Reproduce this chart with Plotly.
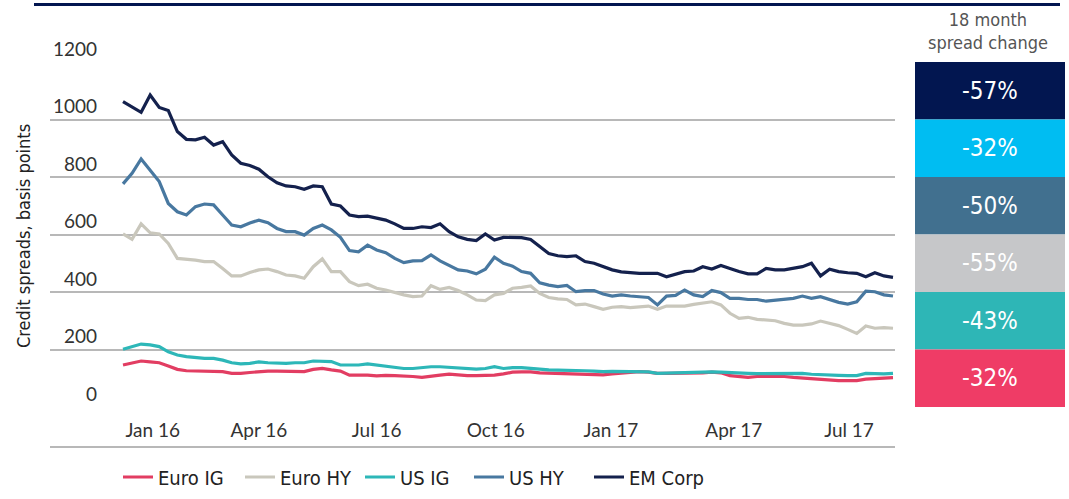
import pandas as pd
import plotly.graph_objects as go

# ---------------- data ----------------
start_date = "2015-12-18"
n_weeks = 86
dates = pd.date_range(start_date, periods=n_weeks, freq="7D")

em_corp = [1062,1045,1025,1085,1042,1031,958,931,929,938, 911,923,877,848,840,827,801,780,769,766,
           757,769,766,706,699,668,662,664,658,650, 637,621,621,627,624,637,610,592,583,579,
           602,581,590,590,589,583,558,534,526,523, 526,506,500,488,477,470,467,465,465,465,
           453,463,471,473,488,480,492,482,471,463, 463,482,477,477,482,488,500,456,479,471,
           467,465,453,467,456,451]
us_hy = [776,813,863,824,784,708,679,668,697,706, 703,668,633,627,640,650,641,621,610,610,
         598,621,633,616,590,544,540,563,546,537, 517,502,508,509,529,508,494,477,473,463,
         479,521,500,490,471,465,432,424,419,423, 401,405,405,393,386,390,386,384,381,355,
         386,388,407,390,384,405,398,378,378,374, 374,368,372,374,378,386,378,384,374,364,
         358,366,403,401,390,386]
euro_hy = [602,583,637,606,602,569,517,515,511,506, 506,482,456,456,468,477,480,471,459,456,
           448,488,515,471,471,436,422,427,413,407, 398,390,384,386,422,409,416,405,390,372,
           370,390,395,413,416,421,395,381,376,374, 355,358,349,340,347,349,346,348,351,340,
           351,351,351,357,361,366,355,326,308,312, 305,302,300,291,285,285,289,299,291,283,
           270,256,282,274,276,274]
us_ig = [201,210,219,216,210,192,181,175,172,169, 169,163,154,150,152,157,154,152,152,154,
         154,160,160,158,146,146,146,150,146,143, 138,134,134,137,140,140,138,134,132,132,
         134,140,134,137,137,134,131,129,128,128, 126,126,125,123,124,124,123,123,122,117,
         118,119,119,121,122,122,121,119,117,117, 116,116,117,117,117,117,114,112,111,110,
         109,109,117,115,115,117]
euro_ig = [146,152,160,157,154,143,131,126,125,125, 125,123,117,117,120,123,125,125,124,124,
           123,131,134,129,125,111,111,111,108,110, 109,108,106,103,108,111,114,111,109,109,
           109,111,115,121,122,122,119,118,117,117, 117,116,115,112,115,117,119,123,121,117,
           117,117,118,119,119,121,119,109,106,103, 106,106,106,106,103,101,97,95,93,92,
           92,92,97,99,101,102]

series_names = ["Euro IG", "Euro HY", "US IG", "US HY", "EM Corp"]
series_values = [euro_ig, euro_hy, us_ig, us_hy, em_corp]
series_colors = ["#e23d62", "#c9c7bc", "#2db7b8", "#4878a0", "#14214d"]
legend_widths = [77, 75, 64, 75, 80]

x_tick_vals = ["2016-01-10", "2016-04-01", "2016-07-01", "2016-10-01", "2016-12-29", "2017-04-03", "2017-07-01"]
x_tick_text = ["Jan 16", "Apr 16", "Jul 16", "Oct 16", "Jan 17", "Apr 17", "Jul 17"]
y_ticks = [0, 200, 400, 600, 800, 1000, 1200]

panel_title = "18 month<br>spread change"
panel_labels = ["-57%", "-32%", "-50%", "-55%", "-43%", "-32%"]
panel_colors = ["#021650", "#00bdf2", "#41708f", "#c6c7c9", "#2eb6b6", "#ef3c66"]

# ---------------- layout constants ----------------
W, H = 1069, 499
ML, MR, MT, MB = 50, 174, 62, 92
PW, PH = W - ML - MR, H - MT - MB
NARROW = "Liberation Sans Narrow, Arial Narrow, DejaVu Sans Condensed, sans-serif"
GEO = "Lato, Open Sans, sans-serif"

def px_x(p):  # pixel -> paper x
    return (p - ML) / PW

def px_y(p):  # pixel -> paper y
    return (H - MB - p) / PH

fig = go.Figure()
for name, vals, col, lw in zip(series_names, series_values, series_colors, legend_widths):
    fig.add_trace(go.Scatter(x=dates, y=vals, name=name, mode="lines",
                             line=dict(color=col, width=3.2), legendwidth=lw))

# x range so that data spans the right pixels
ppd = (893 - 123) / ((n_weeks - 1) * 7)
x0 = dates[0] - pd.Timedelta(days=(123 - ML) / ppd)
x1 = dates[-1] + pd.Timedelta(days=(ML + PW - 893) / ppd)

fig.update_layout(
    width=W, height=H,
    margin=dict(l=ML, r=MR, t=MT, b=MB, autoexpand=False),
    plot_bgcolor="white", paper_bgcolor="white",
    showlegend=True,
    legend=dict(orientation="h", xref="container", yref="container",
                x=118 / W, y=(H - 477) / H, xanchor="left", yanchor="middle",
                font=dict(family=NARROW, size=20, color="#222"), bgcolor="rgba(0,0,0,0)"),
    xaxis=dict(type="date", range=[x0, x1], tickvals=x_tick_vals, ticktext=x_tick_text,
               showgrid=False, zeroline=False, showline=False, ticks="",
               ticklabelstandoff=10, automargin=False,
               tickfont=dict(family=GEO, size=19, color="#333")),
    yaxis=dict(range=[0, 1200], tickvals=y_ticks, showticklabels=False,
               showgrid=True, gridcolor="#b8b8b8", gridwidth=1.5, automargin=False,
               zeroline=False, showline=False, ticks=""),
)

# y tick labels above gridlines
for v in y_ticks:
    fig.add_annotation(x=px_x(99), xref="paper", y=v, yref="y", text=str(v), showarrow=False,
                       xanchor="right", yanchor="middle", yshift=14,
                       font=dict(family=GEO, size=19, color="#333"))

# y axis title
fig.add_annotation(x=px_x(23), xref="paper", y=px_y(236), yref="paper",
                   text="Credit spreads, basis points", textangle=-90, showarrow=False,
                   xanchor="center", yanchor="middle",
                   font=dict(family=NARROW, size=18, color="#222"))

# top rule and bottom rule
fig.add_shape(type="line", xref="paper", yref="paper", x0=px_x(34), x1=px_x(1060),
              y0=px_y(4.5), y1=px_y(4.5), line=dict(color="#021650", width=3))
fig.add_shape(type="line", xref="paper", yref="paper", x0=0, x1=1,
              y0=px_y(447), y1=px_y(447), line=dict(color="#a0a0a0", width=1.5))

# right panel
fig.add_annotation(x=px_x(988), xref="paper", y=px_y(31), yref="paper", text=panel_title,
                   showarrow=False, xanchor="center", yanchor="middle",
                   font=dict(family=NARROW, size=18, color="#555"))
for k, (lab, col) in enumerate(zip(panel_labels, panel_colors)):
    top = 1200 - 200 * k
    bot = top - 200
    fig.add_shape(type="rect", xref="paper", yref="y", x0=px_x(915), x1=px_x(1065),
                  y0=bot, y1=top, fillcolor=col, line=dict(width=0), layer="above")
    fig.add_annotation(x=px_x(990), xref="paper", y=(top + bot) / 2, yref="y", text=lab,
                       showarrow=False, xanchor="center", yanchor="middle",
                       font=dict(family=NARROW, size=24, color="white"))

fig.write_html("out.html", config={"displayModeBar": False},
               post_script="document.body.style.margin='0px';")
